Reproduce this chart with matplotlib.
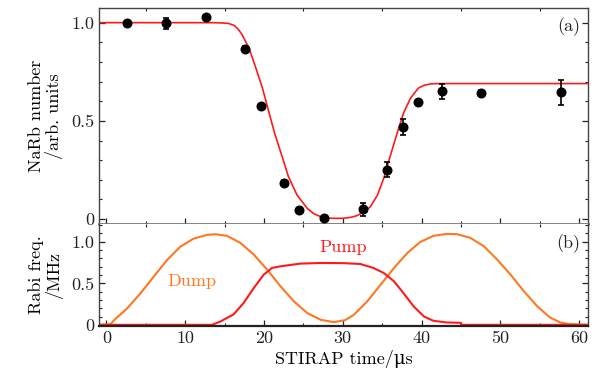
import numpy as np
import matplotlib
matplotlib.use("Agg")
import matplotlib.pyplot as plt
from matplotlib.ticker import MultipleLocator, FixedLocator, FixedFormatter

plt.rcParams['font.family'] = ['cmr10', 'DejaVu Serif']
plt.rcParams['mathtext.fontset'] = 'cm'
plt.rcParams['axes.unicode_minus'] = False

# measured NaRb number vs STIRAP time
t_meas = [2.6, 7.6, 12.6, 17.55, 19.6, 22.5, 24.5, 27.6, 32.6, 35.6, 37.65, 39.6, 42.6, 47.6, 57.65]
n_meas = [1.0, 0.998, 1.03, 0.867, 0.575, 0.184, 0.044, 0.005, 0.05, 0.252, 0.469, 0.597, 0.65, 0.641, 0.646]
n_err = [0.008, 0.028, 0.008, 0.015, 0.008, 0.015, 0.008, 0.008, 0.032, 0.039, 0.042, 0.008, 0.038, 0.015, 0.063]

# fit curve
t_fit = [-1, 5, 10, 13.5, 14.5, 15.5, 16.2, 16.7, 17.2, 18.1, 18.9, 19.8, 20.6, 21.4, 22.3, 23.1, 24.2, 25.5,
         26.3, 27.2, 28.4, 30.0, 31.0, 31.7, 32.2, 32.9, 33.5, 34.4, 35.2, 36.0, 36.9, 37.7, 38.6, 39.6, 40.3,
         41.1, 42.0, 43, 50, 61]
n_fit = [1.0, 1.0, 1.0, 1.0, 0.999, 0.996, 0.986, 0.968, 0.94, 0.87, 0.777, 0.667, 0.547, 0.43, 0.318, 0.216,
         0.122, 0.054, 0.028, 0.012, 0.004, 0.004, 0.009, 0.016, 0.026, 0.042, 0.063, 0.122, 0.208, 0.318, 0.437,
         0.539, 0.616, 0.667, 0.681, 0.688, 0.69, 0.69, 0.69, 0.69]

# Rabi frequencies of the dump and pump beams
t_dump = [-1, 0.5, 1.14, 2.62, 4.31, 6.0, 7.7, 9.39, 11.08, 12.78, 13.83, 15.3, 17.0, 18.7, 20.4, 22.1,
          23.8, 25.5, 27.2, 28.85, 30.3, 31.4, 33.1, 34.8, 36.5, 38.2, 39.85, 41.5, 43.2, 44.5, 46.2,
          47.9, 49.6, 51.3, 53.0, 54.7, 56.3, 57.6, 58.7, 61]
r_dump = [0.004, 0.01, 0.076, 0.20, 0.38, 0.58, 0.78, 0.94, 1.036, 1.08, 1.088, 1.068, 0.984, 0.844, 0.664,
          0.464, 0.284, 0.144, 0.064, 0.036, 0.06, 0.124, 0.284, 0.484, 0.684, 0.864, 0.996, 1.068, 1.092,
          1.088, 1.044, 0.944, 0.784, 0.604, 0.404, 0.224, 0.092, 0.032, 0.012, 0.004]
t_pump = [-1, 13.4, 14.47, 16.15, 17.4, 18.7, 19.96, 21.0, 22.1, 24.6, 27.2, 30.0, 32.2, 33.9, 35.2,
          36.5, 37.7, 39.0, 40.3, 41.5, 43.2, 45.0, 45.01, 61]
r_pump = [0.004, 0.004, 0.044, 0.13, 0.264, 0.444, 0.604, 0.684, 0.704, 0.736, 0.744, 0.742, 0.732, 0.684,
          0.624, 0.524, 0.384, 0.224, 0.104, 0.052, 0.032, 0.028, 0.004, 0.004]

red = '#ff1a1a'
orange = '#ff7722'
frame = '#444444'

fig = plt.figure(figsize=(6.01, 3.78), dpi=100)
ax1 = fig.add_axes([0.1647, 0.4074, 0.8133, 0.5716])
ax2 = fig.add_axes([0.1647, 0.1376, 0.8133, 0.2698])

ax1.plot(t_fit, n_fit, color=red, lw=1.2, zorder=2)
ax1.errorbar(t_meas, n_meas, yerr=n_err, fmt='o', color='black', ms=6.2,
             capsize=2.5, elinewidth=1.2, capthick=1.2, zorder=3)

ax2.plot(t_dump, r_dump, color=orange, lw=1.5)
ax2.plot(t_pump, r_pump, color=red, lw=1.5)
ax2.text(10.8, 0.53, 'Dump', color=orange, fontsize=13, ha='center', va='center')
ax2.text(30.0, 0.93, 'Pump', color=red, fontsize=13, ha='center', va='center')

ax1.text(0.985, 0.955, '(a)', transform=ax1.transAxes, ha='right', va='top', fontsize=13, color='#222222')
ax2.text(0.985, 0.90, '(b)', transform=ax2.transAxes, ha='right', va='top', fontsize=13, color='#222222')

for ax in (ax1, ax2):
    ax.set_xlim(-0.95, 61.1)
    ax.xaxis.set_major_locator(MultipleLocator(10))
    ax.xaxis.set_minor_locator(MultipleLocator(5))
    ax.yaxis.set_minor_locator(MultipleLocator(0.1))
    ax.tick_params(which='both', direction='in', top=True, right=True, labelsize=13, colors='#222222')
    ax.tick_params(which='major', length=4, width=0.9)
    ax.tick_params(which='minor', length=2.5, width=0.8)
    for s in ax.spines.values():
        s.set_color(frame)
        s.set_linewidth(1.0)

ax1.set_ylim(-0.025, 1.075)
ax1.yaxis.set_major_locator(FixedLocator([0, 0.5, 1.0]))
ax1.yaxis.set_major_formatter(FixedFormatter(['0', '0.5', '1.0']))
ax1.tick_params(axis='x', labelbottom=False, top=False)
ax1.spines['bottom'].set_linewidth(2.0)
ax1.spines['bottom'].set_color('#777777')
ax1.set_ylabel('NaRb number\n/arb. units', fontsize=13, linespacing=1.05, labelpad=6)

ax2.set_ylim(-0.01, 1.21)
ax2.yaxis.set_major_locator(FixedLocator([0, 0.5, 1.0]))
ax2.yaxis.set_major_formatter(FixedFormatter(['0', '0.5', '1.0']))
ax2.tick_params(axis='x', top=False)
ax2.spines['top'].set_visible(False)
ax2.spines['bottom'].set_linewidth(1.6)
ax2.spines['bottom'].set_color('#222222')
ax2.set_ylabel('Rabi freq.\n/MHz', fontsize=13, linespacing=1.05, labelpad=6)
ax2.set_xlabel('STIRAP time/\u03bcs', fontsize=13, labelpad=3)

fig.savefig('out.png', dpi=100)
